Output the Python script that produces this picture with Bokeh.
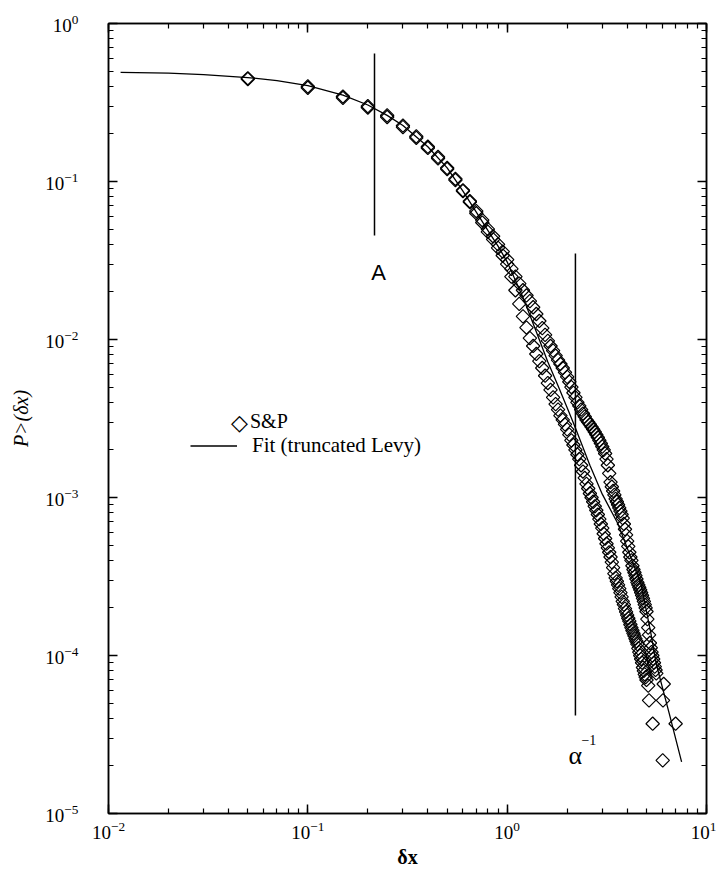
import numpy as np
from bokeh.plotting import figure
from bokeh.models import (LogAxis, LogTicker, CustomJSTickFormatter, Legend, LegendItem,
                          ColumnDataSource, Range1d, Label)
from bokeh.core.properties import value
from bokeh.embed import file_html
from bokeh.resources import INLINE

# ---- data ----
x_core = [0.05, 0.10, 0.15, 0.20, 0.25, 0.30, 0.35, 0.40, 0.45, 0.50,
          0.55, 0.60, 0.65, 0.70, 0.75, 0.80, 0.85, 0.90, 0.95, 1.00]
y_core_a = [0.450, 0.400, 0.345, 0.300, 0.262, 0.226, 0.193, 0.166, 0.143, 0.122,
            0.104, 0.088, 0.074, 0.063, 0.055, 0.048, 0.043, 0.038, 0.034, 0.030]
y_core_b = [0.445, 0.392, 0.338, 0.294, 0.256, 0.221, 0.189, 0.163, 0.140, 0.120,
            0.102, 0.087, 0.075, 0.065, 0.057, 0.050, 0.045, 0.040, 0.036, 0.032]

# lighter tail
xa = [1.05, 1.10, 1.15, 1.20, 1.25, 1.30, 1.35, 1.40, 1.45, 1.50,
      1.55, 1.60, 1.65, 1.70, 1.75, 1.80, 1.85, 1.90, 1.95, 2.00,
      2.05, 2.10, 2.15, 2.20, 2.25, 2.30, 2.35, 2.40, 2.45, 2.50,
      2.55, 2.60, 2.65, 2.70, 2.75, 2.80, 2.85, 2.90, 2.95, 3.00,
      3.05, 3.10, 3.15, 3.20, 3.25, 3.30, 3.35, 3.40, 3.45, 3.50,
      3.55, 3.60, 3.65, 3.70, 3.75, 3.80, 3.85, 3.90, 3.95, 4.00,
      4.05, 4.10, 4.15, 4.20, 4.25, 4.30, 4.35, 4.40, 4.45, 4.50,
      4.55, 4.60, 4.65, 4.70, 4.75, 4.80, 4.85, 4.90, 4.95, 5.00,
      5.10, 5.15, 5.37, 6.03]
ya = [0.025, 0.0205, 0.0168, 0.0140, 0.0119, 0.0102, 0.0091, 0.0081, 0.0073, 0.0066,
      0.0059, 0.0053, 0.0048, 0.0043, 0.0039, 0.0036, 0.0033, 0.0031, 0.0029, 0.0027,
      0.0025, 0.0023, 0.00215, 0.0020, 0.00187, 0.00175, 0.0016, 0.00146, 0.00133, 0.00122,
      0.00114, 0.00106, 0.0010, 0.00094, 0.00088, 0.00083, 0.00078, 0.00073, 0.00068, 0.00064,
      0.00059, 0.00055, 0.00051, 0.00048, 0.00045, 0.00042, 0.00039, 0.00036, 0.00033, 0.00031,
      0.000295, 0.00028, 0.000265, 0.00025, 0.000235, 0.00022, 0.00021, 0.000198, 0.000189, 0.00018,
      0.000172, 0.000165, 0.000157, 0.00015, 0.000144, 0.000138, 0.000133, 0.000128, 0.000123, 0.000118,
      0.000111, 0.000105, 0.0001, 0.000095, 0.00009, 0.000084, 0.00008, 0.000076, 0.000073, 0.00007,
      0.0000645, 0.000052, 0.000037, 0.0000217]

# heavier tail
xb = [1.05, 1.10, 1.15, 1.20, 1.25, 1.30, 1.35, 1.40, 1.45, 1.50,
      1.55, 1.60, 1.65, 1.70, 1.75, 1.80, 1.85, 1.90, 1.95, 2.00,
      2.05, 2.10, 2.15, 2.20, 2.25, 2.30, 2.35, 2.40, 2.45, 2.50,
      2.55, 2.60, 2.65, 2.70, 2.75, 2.80, 2.85, 2.90, 2.95, 3.00,
      3.05, 3.10, 3.15, 3.20, 3.25, 3.30, 3.35, 3.40, 3.45, 3.50,
      3.55, 3.60, 3.65, 3.70, 3.75, 3.80, 3.85, 3.90, 3.95, 4.00,
      4.05, 4.10, 4.15, 4.20, 4.25, 4.30, 4.35, 4.40, 4.45, 4.50,
      4.55, 4.60, 4.65, 4.70, 4.75, 4.80, 4.85, 4.90, 4.95, 5.00,
      5.05, 5.10, 5.15, 5.20, 5.25, 5.30, 5.35, 5.40, 5.45, 5.50,
      5.55, 5.60, 6.10, 6.05, 7.00]
yb = [0.028, 0.025, 0.0226, 0.0205, 0.019, 0.0175, 0.016, 0.0145, 0.0131, 0.0118,
      0.0107, 0.0098, 0.0091, 0.0085, 0.0079, 0.0074, 0.0070, 0.0066, 0.0062, 0.0058,
      0.0054, 0.0050, 0.0046, 0.0043, 0.0040, 0.0038, 0.0036, 0.0034, 0.00325, 0.0031,
      0.0030, 0.0029, 0.0028, 0.0027, 0.0026, 0.0025, 0.0024, 0.0023, 0.0022, 0.0021,
      0.0020, 0.0019, 0.00175, 0.0016, 0.00142, 0.00125, 0.00117, 0.0011, 0.00104, 0.00098,
      0.00094, 0.0009, 0.00086, 0.00082, 0.00078, 0.00074, 0.00068, 0.00063, 0.00058, 0.00053,
      0.00049, 0.00045, 0.00042, 0.0004, 0.00037, 0.00035, 0.000335, 0.00032, 0.000305, 0.00029,
      0.00028, 0.00027, 0.00026, 0.00025, 0.00024, 0.00023, 0.00022, 0.00021, 0.0002, 0.00019,
      0.00017, 0.00015, 0.000135, 0.00012, 0.000112, 0.000105, 0.0001, 0.000095, 0.00009, 0.000085,
      0.000081, 0.000077, 0.000066, 0.000052, 0.000037]

# truncated Levy fit
fit_x = [0.0115, 0.02, 0.03, 0.05, 0.07, 0.1, 0.15, 0.2, 0.25, 0.3, 0.4, 0.5, 0.6, 0.7, 0.8, 0.9,
         1.0, 1.2, 1.4, 1.6, 1.8, 2.0, 2.2, 2.6, 3.0, 3.6, 4.0, 4.7, 5.25, 5.6, 6.5, 7.5]
fit_y = [0.49, 0.485, 0.475, 0.455, 0.435, 0.405, 0.352, 0.305, 0.262, 0.226, 0.166, 0.122, 0.087,
         0.064, 0.049, 0.039, 0.031, 0.0185, 0.0112, 0.0072, 0.0051, 0.0037, 0.00275, 0.0016,
         0.00105, 0.00068, 0.00048, 0.00028, 0.00014, 0.000088, 0.000043, 0.0000212]

# marker lines
mark_x = [0.216, 2.2]
mark_y0 = [0.0455, 0.0000417]
mark_y1 = [0.646, 0.035]
mark_text = ["A", "α"]

SERIF = "Liberation Serif"

p = figure(width=716, height=872, x_axis_type="log", y_axis_type="log",
           x_range=Range1d(0.01, 10), y_range=Range1d(1e-5, 1),
           output_backend="svg", toolbar_location=None,
           min_border_left=108, min_border_right=10, min_border_top=23, min_border_bottom=59,
           background_fill_color="white", border_fill_color="white")
p.xgrid.visible = False
p.ygrid.visible = False
p.outline_line_color = "black"
p.outline_line_width = 1.5

xax = p.below[0]
yax = p.left[0]
xax.ticker = LogTicker(num_minor_ticks=10)
yax.ticker = LogTicker(num_minor_ticks=10, desired_num_ticks=6)

top = LogAxis(ticker=LogTicker(num_minor_ticks=10), formatter=CustomJSTickFormatter(code="return ''"))
right = LogAxis(ticker=LogTicker(num_minor_ticks=10, desired_num_ticks=6),
                formatter=CustomJSTickFormatter(code="return ''"))
p.add_layout(top, "above")
p.add_layout(right, "right")

for ax in [xax, yax, top, right]:
    ax.major_tick_in = 9
    ax.major_tick_out = 0
    ax.minor_tick_in = 5
    ax.minor_tick_out = 0
    ax.axis_line_color = "black"
    ax.axis_line_width = 1.5
    ax.major_tick_line_color = "black"
    ax.minor_tick_line_color = "black"
    ax.major_tick_line_width = 1.5
    ax.minor_tick_line_width = 1.2
    ax.major_label_text_font = SERIF
    ax.major_label_text_font_size = "19px"
    ax.major_label_text_color = "black"
top.major_label_standoff = 0
right.major_label_standoff = 0

xax.major_label_standoff = 8
yax.major_label_standoff = 30
xax.axis_label = "δx"
xax.axis_label_text_font = SERIF
xax.axis_label_text_font_style = "bold"
xax.axis_label_text_font_size = "20px"
xax.axis_label_text_color = "black"
xax.axis_label_standoff = 4
yax.axis_label = "P>(δx)"
yax.axis_label_text_font = SERIF
yax.axis_label_text_font_style = "italic"
yax.axis_label_text_font_size = "20px"
yax.axis_label_text_color = "black"
yax.axis_label_standoff = 10

# data
src_a = ColumnDataSource(dict(x=x_core + xa, y=y_core_a + ya))
src_b = ColumnDataSource(dict(x=x_core + xb, y=y_core_b + yb))
sty = dict(marker="square", size=9.5, angle=np.pi / 4, fill_alpha=0,
           line_color="black", line_width=1.2)
r_a = p.scatter("x", "y", source=src_a, **sty)
r_b = p.scatter("x", "y", source=src_b, **sty)
r_fit = p.line(fit_x, fit_y, line_color="black", line_width=1.3)
r_dummy = p.scatter(x=[], y=[], marker="square", fill_alpha=0, line_alpha=0)

# marker lines and labels
p.segment(x0=mark_x, y0=mark_y0, x1=mark_x, y1=mark_y1, line_color="black", line_width=1.5)
p.text(x=[mark_x[0]], y=[mark_y0[0]], text=[mark_text[0]], text_font=value("Liberation Sans"),
       text_font_size="22px", text_align="center", text_baseline="top", x_offset=4, y_offset=24)
p.text(x=[mark_x[1]], y=[mark_y0[1]], text=[mark_text[1]], text_font=value(SERIF),
       text_font_size="26px", text_align="center", text_baseline="alphabetic", x_offset=0, y_offset=40)
p.text(x=[mark_x[1]], y=[mark_y0[1]], text=["−1"], text_font=value(SERIF),
       text_font_size="14px", text_align="left", text_baseline="alphabetic", x_offset=6, y_offset=24)

# legend
leg1 = Legend(items=[LegendItem(label="S&P", renderers=[r_dummy])], location=(126, 380),
              glyph_width=14, glyph_height=23, label_height=23, label_standoff=2,
              padding=0, margin=0, border_line_color=None, background_fill_alpha=0,
              label_text_font=SERIF, label_text_font_size="20px", label_text_color="black")
leg2 = Legend(items=[LegendItem(label="Fit (truncated Levy)", renderers=[r_fit])], location=(82, 355),
              glyph_width=47, glyph_height=23, label_height=23, label_standoff=15,
              padding=0, margin=0, border_line_color=None, background_fill_alpha=0,
              label_text_font=SERIF, label_text_font_size="21px", label_text_color="black")
p.add_layout(leg1)
p.add_layout(leg2)
p.add_layout(Label(x=131, y=391, x_units="screen", y_units="screen", text="◇",
                   text_font="DejaVu Sans", text_font_size="22px", text_align="center",
                   text_baseline="middle", text_color="black"))

open("out.html", "w").write(file_html(p, INLINE))
